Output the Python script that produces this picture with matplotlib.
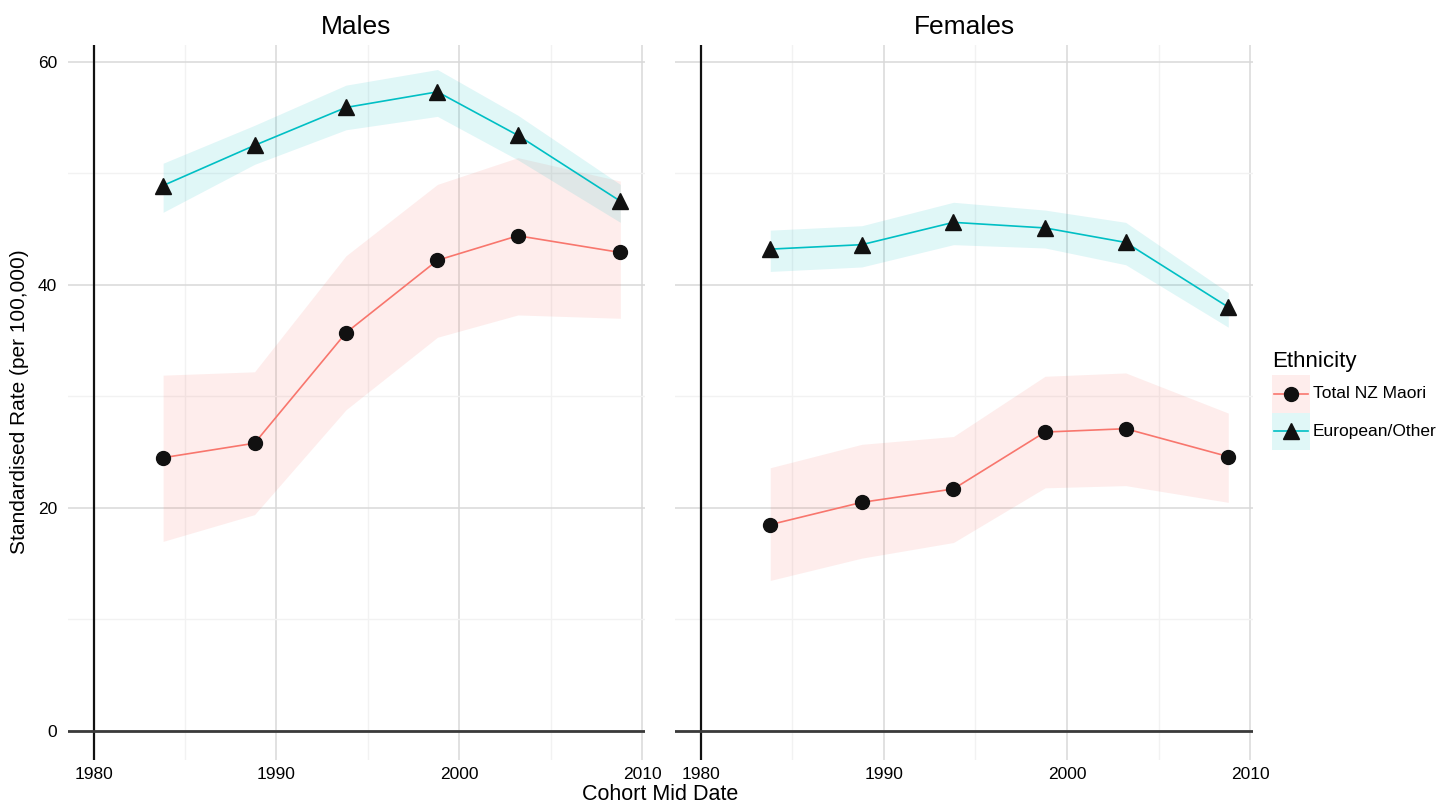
import matplotlib
matplotlib.use("Agg")
import matplotlib.pyplot as plt
import matplotlib.patches as patches

plt.rcParams['font.family'] = ['Liberation Sans', 'DejaVu Sans']

# cohort mid dates
years = [1983.8, 1988.8, 1993.8, 1998.8, 2003.2, 2008.8]

# males
male_euro = [48.9, 52.5, 55.9, 57.3, 53.4, 47.5]
male_euro_lo = [46.5, 50.8, 53.9, 55.1, 51.2, 45.6]
male_euro_hi = [50.9, 54.3, 57.9, 59.3, 55.2, 49.0]
male_maori = [24.5, 25.8, 35.7, 42.2, 44.4, 42.9]
male_maori_lo = [17.0, 19.4, 28.8, 35.3, 37.3, 37.0]
male_maori_hi = [31.9, 32.2, 42.6, 49.0, 51.4, 49.3]

# females
fem_euro = [43.2, 43.6, 45.6, 45.1, 43.8, 38.0]
fem_euro_lo = [41.2, 41.6, 43.6, 43.3, 41.8, 36.2]
fem_euro_hi = [44.9, 45.3, 47.4, 46.7, 45.6, 39.3]
fem_maori = [18.5, 20.5, 21.7, 26.8, 27.1, 24.6]
fem_maori_lo = [13.5, 15.5, 16.9, 21.8, 22.0, 20.5]
fem_maori_hi = [23.6, 25.7, 26.4, 31.8, 32.1, 28.5]

panels = ['Males', 'Females']
groups = ['Total NZ Maori', 'European/Other']
red = '#F8766D'
cyan = '#00BFC4'

W, H = 1441, 809
fig = plt.figure(figsize=(W / 100, H / 100), dpi=100)

ax_l = fig.add_axes([68 / W, 1 - 760 / H, 577 / W, 715 / H])
ax_r = fig.add_axes([675 / W, 1 - 760 / H, 578 / W, 715 / H])

data = [
    (male_euro, male_euro_lo, male_euro_hi, male_maori, male_maori_lo, male_maori_hi),
    (fem_euro, fem_euro_lo, fem_euro_hi, fem_maori, fem_maori_lo, fem_maori_hi),
]

for ax, title, d in zip([ax_l, ax_r], panels, data):
    eu, eu_lo, eu_hi, ma, ma_lo, ma_hi = d
    ax.set_xlim(1978.6, 2010.15)
    ax.set_ylim(-2.6, 61.5)
    ax.set_xticks([1980, 1990, 2000, 2010])
    ax.set_xticks([1985, 1995, 2005], minor=True)
    ax.set_yticks([0, 20, 40, 60])
    ax.set_yticks([10, 30, 50], minor=True)
    ax.grid(which='major', color='#d9d9d9', lw=1.1)
    ax.grid(which='minor', color='#f2f2f2', lw=1.0)
    for s in ax.spines.values():
        s.set_visible(False)
    ax.tick_params(which='both', length=0)
    ax.tick_params(axis='x', labelsize=12.5, pad=5)
    ax.tick_params(axis='y', labelsize=12.5, pad=8)
    # axis lines drawn above the grid
    ax.axvline(1980, color='#111111', lw=1.6, zorder=1.8)
    ax.axhline(0, color='#3a3a3a', lw=2.0, zorder=1.8)

    ax.fill_between(years, ma_lo, ma_hi, color=red, alpha=0.13, lw=0, zorder=2)
    ax.fill_between(years, eu_lo, eu_hi, color=cyan, alpha=0.12, lw=0, zorder=2)
    ax.plot(years, ma, color=red, lw=1.2, zorder=3)
    ax.plot(years, eu, color=cyan, lw=1.2, zorder=3)
    ax.plot(years, ma, 'o', color='#111111', ms=10, zorder=4, lw=0)
    ax.plot(years, eu, '^', color='#111111', ms=11, zorder=4, lw=0)

    ax.set_title(title, fontsize=19, pad=8)

ax_r.tick_params(axis='y', labelleft=False)

fig.text(20 / W, 1 - 402 / H, 'Standardised Rate (per 100,000)', rotation=90,
         ha='center', va='center', fontsize=15)
fig.text(660 / W, 1 - 795 / H, 'Cohort Mid Date', ha='center', va='center', fontsize=15.5)

# legend drawn by hand in pixel coordinates
lg = fig.add_axes([0, 0, 1, 1], facecolor='none')
lg.set_xlim(0, W)
lg.set_ylim(H, 0)
lg.axis('off')
lg.text(1272, 361, 'Ethnicity', fontsize=16, ha='left', va='center')
keys = [(red, 0.13, 'o', 10), (cyan, 0.12, '^', 11)]
for i, (label, (col, a, mk, ms)) in enumerate(zip(groups, keys)):
    top = 375 + i * 37.5
    cy = top + 18.5
    lg.add_patch(patches.Rectangle((1272, top), 38, 37.5, facecolor=col, alpha=a, lw=0))
    lg.plot([1274, 1308], [cy, cy], color=col, lw=1.2)
    lg.plot([1291], [cy], marker=mk, ms=ms, color='#111111', lw=0)
    lg.text(1313, cy, label, fontsize=12.5, ha='left', va='center')

fig.savefig('out.png', dpi=100)
